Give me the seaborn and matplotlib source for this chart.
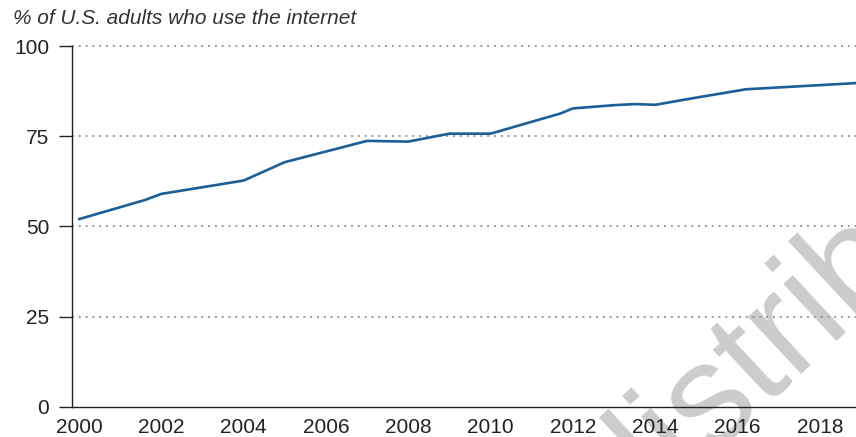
import pandas as pd
import seaborn as sns
import matplotlib.pyplot as plt

# values
years = [2000, 2001.6, 2002, 2004, 2005, 2007, 2008, 2009, 2010, 2011.7, 2012,
         2013, 2013.5, 2014, 2015, 2016, 2016.2, 2019]
share = [52.0, 57.3, 59.0, 62.7, 67.8, 73.7, 73.5, 75.7, 75.7, 81.3, 82.7,
         83.6, 83.9, 83.7, 85.7, 87.6, 88.0, 89.8]
y_ticks = [0, 25, 50, 75, 100]
x_ticks = list(range(2000, 2019, 2))
title = "% of U.S. adults who use the internet"

data = pd.DataFrame({"year": years, "share": share})

sns.set_theme(style="ticks")
plt.rcParams["font.family"] = ["Liberation Sans", "DejaVu Sans"]

fig = plt.figure(figsize=(8.56, 4.37), dpi=100)
ax = fig.add_axes([0.0841, 0.0693, 1 - 0.0841, 0.9112 - 0.0693])
ax.patch.set_alpha(0)

# watermark sits underneath everything
fig.text(0.733, -0.213, "distribute", fontsize=105,
         color="#cccccc", rotation=43, rotation_mode="anchor",
         ha="left", va="baseline", zorder=-1)

for v in y_ticks[1:]:
    ax.axhline(v, color="#999999", linewidth=1.4, linestyle=(0, (1, 2.5)), zorder=1)

sns.lineplot(data=data, x="year", y="share", color="#1c5e98", linewidth=1.9,
             ax=ax, zorder=3)

ax.set_xlim(1999.83, 2018.88)
ax.set_ylim(0, 102)
ax.set_xticks(x_ticks)
ax.set_yticks(y_ticks)
ax.set_xlabel("")
ax.set_ylabel("")

for s in ["top", "right"]:
    ax.spines[s].set_visible(False)
for s in ["left", "bottom"]:
    ax.spines[s].set_color("#222222")
    ax.spines[s].set_linewidth(1.0)
ax.spines["left"].set_bounds(0, 100)

ax.tick_params(axis="y", length=9.5, width=1.0, color="#222222", pad=7,
               labelsize=15, labelcolor="#222222")
ax.tick_params(axis="x", length=0, pad=8, labelsize=15, labelcolor="#222222")

fig.text(0.0152, 0.945, title, fontsize=15, style="italic", color="#333333",
         ha="left", va="baseline")

fig.savefig("out.png", dpi=100)
